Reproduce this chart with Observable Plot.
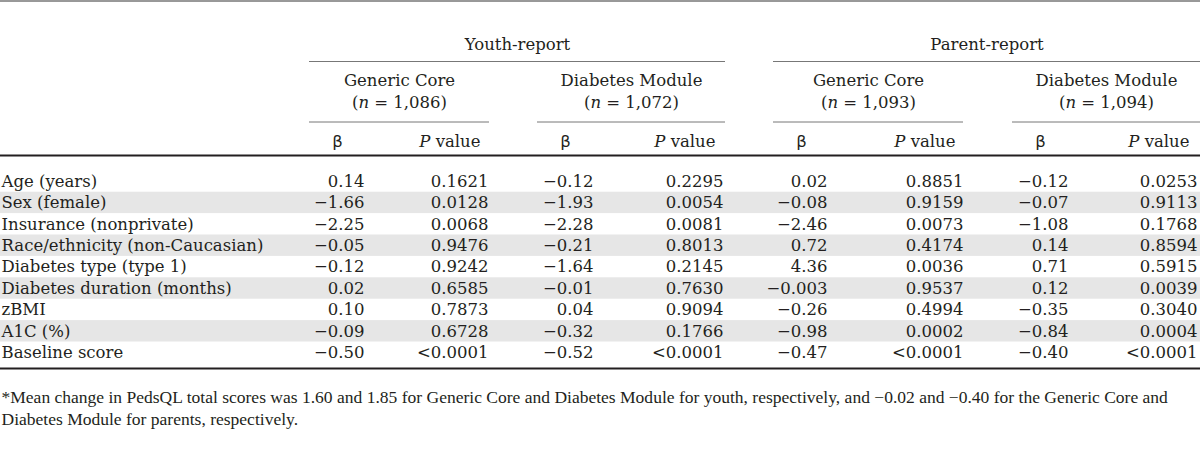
<!DOCTYPE html>
<html><head><meta charset="utf-8">
<script src="https://cdn.jsdelivr.net/npm/d3@7"></script>
<script src="https://cdn.jsdelivr.net/npm/@observablehq/plot@0.6"></script>
<style>body{margin:0;background:#fff} svg{display:block}</style>
</head><body><div id="chart"></div>
<script>
// ---------- data ----------
const reports = ["Youth-report", "Parent-report"];
const modules = ["Generic Core", "Diabetes Module", "Generic Core", "Diabetes Module"];
const sampleSizes = ["1,086", "1,072", "1,093", "1,094"];
const statHeaders = ["β", "P value"];
const variables = [
  "Age (years)", "Sex (female)", "Insurance (nonprivate)", "Race/ethnicity (non-Caucasian)",
  "Diabetes type (type 1)", "Diabetes duration (months)", "zBMI", "A1C (%)", "Baseline score"
];
const betaYouthGeneric  = ["0.14", "−1.66", "−2.25", "−0.05", "−0.12", "0.02", "0.10", "−0.09", "−0.50"];
const pYouthGeneric     = ["0.1621", "0.0128", "0.0068", "0.9476", "0.9242", "0.6585", "0.7873", "0.6728", "<0.0001"];
const betaYouthDiabetes = ["−0.12", "−1.93", "−2.28", "−0.21", "−1.64", "−0.01", "0.04", "−0.32", "−0.52"];
const pYouthDiabetes    = ["0.2295", "0.0054", "0.0081", "0.8013", "0.2145", "0.7630", "0.9094", "0.1766", "<0.0001"];
const betaParentGeneric = ["0.02", "−0.08", "−2.46", "0.72", "4.36", "−0.003", "−0.26", "−0.98", "−0.47"];
const pParentGeneric    = ["0.8851", "0.9159", "0.0073", "0.4174", "0.0036", "0.9537", "0.4994", "0.0002", "<0.0001"];
const betaParentDiabetes= ["−0.12", "−0.07", "−1.08", "0.14", "0.71", "0.12", "−0.35", "−0.84", "−0.40"];
const pParentDiabetes   = ["0.0253", "0.9113", "0.1768", "0.8594", "0.5915", "0.0039", "0.3040", "0.0004", "<0.0001"];
const footnoteLines = [
  "*Mean change in PedsQL total scores was 1.60 and 1.85 for Generic Core and Diabetes Module for youth, respectively, and −0.02 and −0.40 for the Generic Core and",
  "Diabetes Module for parents, respectively."
];

// ---------- layout ----------
const W = 1200, H = 455;
const ink = "#231f20";
const serif = "'DejaVu Serif', serif";
const footFont = "'Liberation Serif', serif";
const fs = 16.5;
const groupSpans = [[309, 489], [537, 725], [773, 963], [1012, 1200]];
const reportSpans = [[309, 725], [773, 1200]];
const betaRight = [364, 593, 827, 1068];
const pRight = [488, 723, 963, 1197];
const yReport = 44, yRule1 = 61, yModule = 80, yN = 102, yRule2 = 121.5, yStat = 141, yThick = 155;
const rowTop = 181, rowStep = 21.4;
const yBottom = 368, yFoot = [397, 419];

const betaCols = [betaYouthGeneric, betaYouthDiabetes, betaParentGeneric, betaParentDiabetes];
const pCols = [pYouthGeneric, pYouthDiabetes, pParentGeneric, pParentDiabetes];

const rowY = i => rowTop + i * rowStep;
const rows = variables.map((v, i) => ({v, i, y: rowY(i)}));
const stripes = rows.filter(r => r.i % 2 === 1);

const cells = [];
betaCols.forEach((col, c) => col.forEach((t, i) => cells.push({t, x: betaRight[c], y: rowY(i)})));
pCols.forEach((col, c) => col.forEach((t, i) => cells.push({t, x: pRight[c], y: rowY(i)})));

const reportHeads = reports.map((r, k) => ({t: r, x: (reportSpans[k][0] + reportSpans[k][1]) / 2, x1: reportSpans[k][0], x2: reportSpans[k][1]}));
const moduleHeads = modules.map((m, k) => ({t: m, n: "(n = " + sampleSizes[k] + ")", x: (groupSpans[k][0] + groupSpans[k][1]) / 2, x1: groupSpans[k][0], x2: groupSpans[k][1]}));
const betaHeads = modules.map((m, k) => ({t: statHeaders[0], x: groupSpans[k][0] + 28}));
const pHeads = modules.map((m, k) => ({t: statHeaders[1], x: pRight[k] - 8}));

const txt = {fontFamily: serif, fontSize: fs, fill: ink, lineAnchor: "middle"};

const chart = Plot.plot({
  width: W, height: H, margin: 0,
  x: {type: "identity", axis: null}, y: {type: "identity", axis: null},
  marks: [
    Plot.rect(stripes, {x1: 0, x2: W, y1: d => d.y - rowStep / 2, y2: d => d.y + rowStep / 2, fill: "#e6e6e6"}),
    Plot.ruleY([0.5], {x1: 0, x2: W, stroke: "#333", strokeWidth: 1}),
    Plot.ruleY(reportHeads, {y: () => yRule1, x1: "x1", x2: "x2", stroke: "#777", strokeWidth: 1}),
    Plot.ruleY(moduleHeads, {y: () => yRule2, x1: "x1", x2: "x2", stroke: "#777", strokeWidth: 1}),
    Plot.ruleY([yThick], {x1: 0, x2: W, stroke: ink, strokeWidth: 2}),
    Plot.ruleY([yBottom], {x1: 0, x2: W, stroke: ink, strokeWidth: 2}),
    Plot.text(reportHeads, {...txt, x: "x", y: () => yReport, text: "t", textAnchor: "middle"}),
    Plot.text(moduleHeads, {...txt, x: "x", y: () => yModule, text: "t", textAnchor: "middle"}),
    Plot.text(moduleHeads, {...txt, x: "x", y: () => yN, text: "n", textAnchor: "middle", className: "nlabel"}),
    Plot.text(betaHeads, {...txt, x: "x", y: () => yStat, text: "t", textAnchor: "middle", fontFamily: "'DejaVu Sans', sans-serif"}),
    Plot.text(pHeads, {...txt, x: "x", y: () => yStat, text: "t", textAnchor: "end", className: "plabel"}),
    Plot.text(rows, {...txt, x: () => 1, y: "y", text: "v", textAnchor: "start"}),
    Plot.text(cells, {...txt, x: "x", y: "y", text: "t", textAnchor: "end"}),
    Plot.text(footnoteLines.map((t, i) => ({t, y: yFoot[i]})), {x: () => 1, y: "y", text: "t", textAnchor: "start", lineAnchor: "middle", fontFamily: footFont, fontSize: 15.5, fill: ink, className: "foot"})
  ]
});

// italic n and P
d3.select(chart).selectAll("g.nlabel text").each(function () {
  const t = this.textContent; const sel = d3.select(this); sel.text(null);
  sel.append("tspan").text("(");
  sel.append("tspan").attr("font-style", "italic").text("n");
  sel.append("tspan").text(t.slice(2));
});
d3.select(chart).selectAll("g.plabel text").each(function () {
  const t = this.textContent; const sel = d3.select(this); sel.text(null);
  sel.append("tspan").attr("font-style", "italic").text("P");
  sel.append("tspan").text(t.slice(1));
});
document.getElementById("chart").appendChild(chart);
// size footnote so its first line spans the reference width
const f = d3.select(chart).selectAll("g.foot text").nodes();
if (f[0]) {
  const len = f[0].getComputedTextLength();
  const size = 15.5 * 1168 / len;
  d3.select(chart).select("g.foot").attr("font-size", size);
  f.forEach(n => n.setAttribute("font-size", size));
}
</script>
</body></html>
